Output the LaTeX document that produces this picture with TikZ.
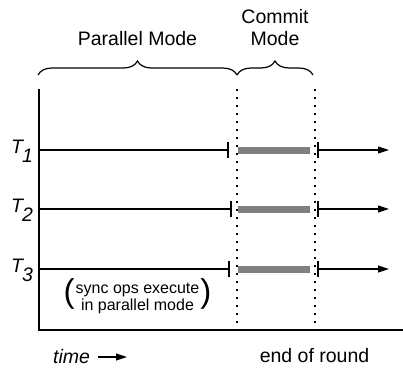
\documentclass[tikz,border=0pt]{standalone}
\usepackage{fontspec}
\setmainfont{Liberation Sans}
\usetikzlibrary{decorations.pathreplacing,arrows.meta}

\begin{document}
\begin{tikzpicture}[x=1pt,y=-1pt,
    lbl/.style={font=\fontsize{19.5}{22}\selectfont},
    axis/.style={line width=1.5pt},
    sep/.style={line width=2pt,dash pattern=on 2pt off 6pt},
    brc/.style={line width=1.2pt,decorate,decoration={brace,amplitude=14pt}},
    tline/.style={line width=1.1pt},
    tick/.style={line width=1.3pt},
    bar/.style={line width=7pt,color=black!50},
    flow/.style={line width=1.1pt,-{Triangle[length=11pt,width=7pt]}}]
    \useasboundingbox (0,0) rectangle (403,367);

    % axes
    \coordinate (top) at (39,89);
    \coordinate (origin) at (39,330);
    \coordinate (far) at (403,330);
    \draw[axis] (top) -- (origin) -- (far);

    % mode boundaries
    \coordinate (p0) at (236.5,89);
    \coordinate (p1) at (236.5,330);
    \coordinate (q0) at (315,89);
    \coordinate (q1) at (315,330);
    \draw[sep] (p0) -- (p1);
    \draw[sep] (q0) -- (q1);

    % braces and mode names
    \coordinate (br0) at (38,75);
    \coordinate (br1) at (237,75);
    \coordinate (br2) at (313,75);
    \draw[brc] (br0) -- (br1);
    \draw[brc] (br1) -- (br2);
    \node[lbl] (par) at (137.5,39) {Parallel Mode};
    \node[lbl,align=center] (com) at (275,28) {Commit\\Mode};

    % threads
    \foreach \i/\y/\k in {1/150/228,2/209/231,3/269/229} {
        \node[lbl,anchor=base west,inner sep=0pt] (T\i) at (11,\y+3)
            {\itshape T\kern-1pt\raisebox{-9pt}{\i}};
        \coordinate (s\i) at (39,\y);
        \coordinate (k\i) at (\k,\y);
        \coordinate (b\i) at (238,\y);
        \coordinate (c\i) at (310,\y);
        \coordinate (r\i) at (318,\y);
        \coordinate (e\i) at (389,\y);
        \draw[tline] (s\i) -- (k\i);
        \draw[tick] ([yshift=-8pt]k\i) -- ([yshift=8pt]k\i);
        \draw[bar] (b\i) -- (c\i);
        \draw[tick] ([yshift=-8pt]r\i) -- ([yshift=8pt]r\i);
        \draw[flow] (r\i) -- (e\i);
    }

    \node[font=\fontsize{33}{33}\selectfont,inner sep=0pt] (note) at (137.5,297)
        {(\kern1pt{\fontsize{16}{17}\selectfont\begin{tabular}{@{}c@{}}sync ops execute\\in parallel mode\end{tabular}}\kern1pt)};

    % bottom labels
    \node[lbl,anchor=base west,inner sep=0pt] (time) at (53,363) {\itshape time};
    \coordinate (t0) at (98,357);
    \coordinate (t1) at (127,357);
    \draw[flow] (t0) -- (t1);
    \node[lbl] (eor) at (314.5,356) {end of round};
\end{tikzpicture}
\end{document}
